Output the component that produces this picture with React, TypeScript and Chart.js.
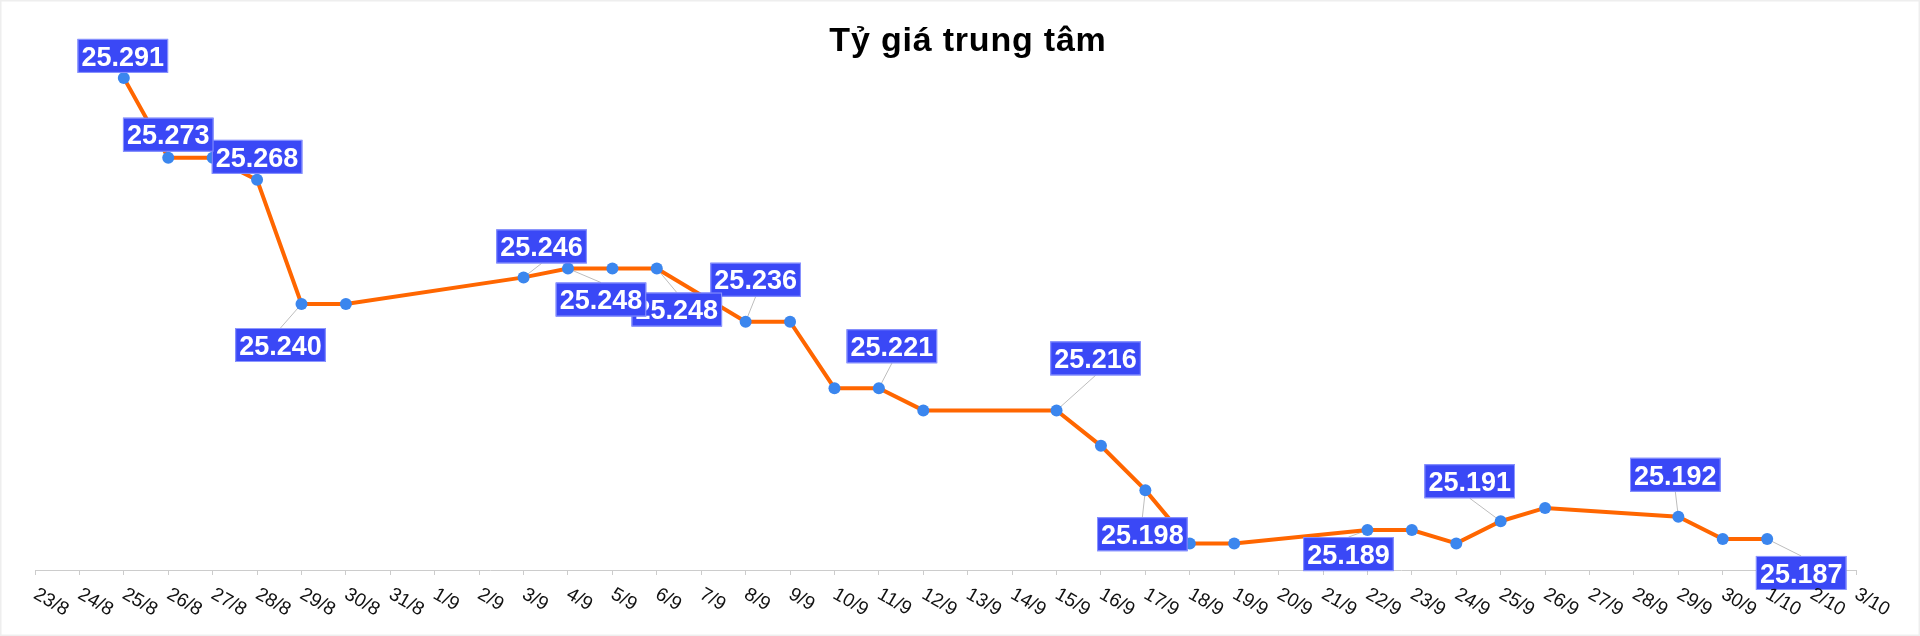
import React, { useEffect, useRef } from 'react';
import { Chart, registerables } from 'chart.js';

Chart.register(...registerables);

const titleText = 'Tỷ giá trung tâm';

const dates = [
  '23/8', '24/8', '25/8', '26/8', '27/8', '28/8', '29/8', '30/8', '31/8',
  '1/9', '2/9', '3/9', '4/9', '5/9', '6/9', '7/9', '8/9', '9/9', '10/9',
  '11/9', '12/9', '13/9', '14/9', '15/9', '16/9', '17/9', '18/9', '19/9', '20/9',
  '21/9', '22/9', '23/9', '24/9', '25/9', '26/9', '27/9', '28/9', '29/9', '30/9',
  '1/10', '2/10', '3/10',
];

const rates: (number | null)[] = [
  null, null, 25.291, 25.273, 25.273, 25.268, 25.240, 25.240, null,
  null, null, 25.246, 25.248, 25.248, 25.248, null, 25.236, 25.236, 25.221,
  25.221, 25.216, null, null, 25.216, 25.208, 25.198, 25.186, 25.186, null,
  null, 25.189, 25.189, 25.186, 25.191, 25.194, null, null, 25.192, 25.187,
  25.187, null, null,
];

// dates whose value is shown in a label box
const labeledDates = ['25/8', '26/8', '28/8', '29/8', '3/9', '4/9', '6/9', '8/9', '11/9', '15/9', '17/9', '22/9', '25/9', '29/9', '1/10'];
// label box centre offsets from the point (layout only)
const labelDx = [-1, 0, 0, -21, 18, 33, 20, 10, 13, 39, -3, -19, -31, -3, 34];
const labelDy = [-22, -23, -23, 41, -31, 31, 41, -42, -42, -52, 44, 24, -40, -42, 34];

const LABEL_FONT = 'bold 27px "Liberation Sans", Arial, Helvetica, sans-serif';
const BOX_H = 34;

function boxFor(ctx: CanvasRenderingContext2D, text: string, cx: number, cy: number) {
  ctx.font = LABEL_FONT;
  const w = ctx.measureText(text).width + 8;
  return { x: cx - w / 2, y: cy - BOX_H / 2, w, h: BOX_H };
}

export default function App() {
  const ref = useRef<HTMLCanvasElement>(null);

  useEffect(() => {
    document.body.style.margin = '0';
    const canvas = ref.current!;

    const overlay = {
      id: 'overlay',
      beforeDatasetsDraw(chart: any) {
        const ctx: CanvasRenderingContext2D = chart.ctx;
        const meta = chart.getDatasetMeta(0);
        ctx.save();
        ctx.strokeStyle = '#bdbdbd';
        ctx.lineWidth = 1;
        labeledDates.forEach((d, k) => {
          const i = dates.indexOf(d);
          const v = rates[i];
          const pt = meta.data[i];
          if (v == null || !pt) return;
          const b = boxFor(ctx, v.toFixed(3), pt.x + labelDx[k], pt.y + labelDy[k]);
          const mids = [
            [b.x + b.w / 2, b.y],
            [b.x + b.w / 2, b.y + b.h],
          ];
          let best = mids[0];
          let bd = Infinity;
          for (const m of mids) {
            const dd = Math.hypot(m[0] - pt.x, m[1] - pt.y);
            if (dd < bd) { bd = dd; best = m; }
          }
          if (bd > 8) {
            ctx.beginPath();
            ctx.moveTo(pt.x, pt.y);
            ctx.lineTo(best[0], best[1]);
            ctx.stroke();
          }
        });
        ctx.restore();
      },
      afterDatasetsDraw(chart: any) {
        const ctx: CanvasRenderingContext2D = chart.ctx;
        const meta = chart.getDatasetMeta(0);
        ctx.save();
        for (let k = labeledDates.length - 1; k >= 0; k--) {
          const i = dates.indexOf(labeledDates[k]);
          const v = rates[i];
          const pt = meta.data[i];
          if (v == null || !pt) continue;
          const text = v.toFixed(3);
          const b = boxFor(ctx, text, pt.x + labelDx[k], pt.y + labelDy[k]);
          ctx.fillStyle = '#3a48f6';
          ctx.fillRect(b.x, b.y, b.w, b.h);
          ctx.strokeStyle = '#8e98ff';
          ctx.lineWidth = 1;
          ctx.strokeRect(b.x + 0.5, b.y + 0.5, b.w - 1, b.h - 1);
          ctx.fillStyle = '#ffffff';
          ctx.textAlign = 'center';
          ctx.textBaseline = 'alphabetic';
          ctx.fillText(text, b.x + b.w / 2, b.y + b.h / 2 + 9.7);
        }
        ctx.restore();
      },
      afterDraw(chart: any) {
        const ctx: CanvasRenderingContext2D = chart.ctx;
        const xs = chart.scales.x;
        ctx.save();
        // x tick labels, rotated clockwise
        ctx.font = '19px "Liberation Sans", Arial, Helvetica, sans-serif';
        ctx.fillStyle = '#111';
        ctx.textAlign = 'left';
        ctx.textBaseline = 'middle';
        const ang = (30 * Math.PI) / 180;
        dates.forEach((d, i) => {
          const x = xs.getPixelForTick(i);
          ctx.save();
          ctx.translate(x, xs.top + 23);
          ctx.rotate(ang);
          ctx.fillText(d, 0, 0);
          ctx.restore();
        });
        // title
        ctx.font = 'bold 34px "Liberation Sans", Arial, Helvetica, sans-serif';
        (ctx as any).letterSpacing = '0.8px';
        ctx.fillStyle = '#000';
        ctx.textAlign = 'center';
        ctx.textBaseline = 'alphabetic';
        ctx.fillText(titleText, 968, 51);
        (ctx as any).letterSpacing = '0px';
        // faint frame
        ctx.strokeStyle = '#eeeeee';
        ctx.lineWidth = 3;
        ctx.strokeRect(0, 0, chart.width, chart.height);
        ctx.restore();
      },
    };

    const chart = new Chart(canvas, {
      type: 'line',
      data: {
        labels: dates,
        datasets: [
          {
            data: rates,
            borderColor: '#ff6600',
            borderWidth: 4,
            tension: 0,
            spanGaps: true,
            pointRadius: 6,
            pointBackgroundColor: '#3b86ee',
            pointBorderWidth: 0,
            pointBorderColor: '#3b86ee',
            clip: false,
          } as any,
        ],
      },
      options: {
        responsive: false,
        animation: false,
        devicePixelRatio: 1,
        layout: { padding: { left: 35, right: 64, top: 38, bottom: 0 } },
        plugins: {
          legend: { display: false },
          title: { display: false },
          tooltip: { enabled: false },
        },
        scales: {
          x: {
            type: 'category',
            offset: false,
            grid: {
              drawOnChartArea: false,
              drawTicks: true,
              tickLength: 5,
              color: '#cccccc',
            },
            border: { color: '#cccccc', width: 1 },
            ticks: { display: false, autoSkip: false },
            afterFit: (s: any) => { s.height = 66; },
          },
          y: {
            display: false,
            min: 25.18,
            max: 25.3,
          },
        },
      },
      plugins: [overlay],
    });

    return () => chart.destroy();
  }, []);

  return (
    <canvas
      ref={ref}
      width={1920}
      height={636}
      style={{ display: 'block', width: 1920, height: 636 }}
    />
  );
}
